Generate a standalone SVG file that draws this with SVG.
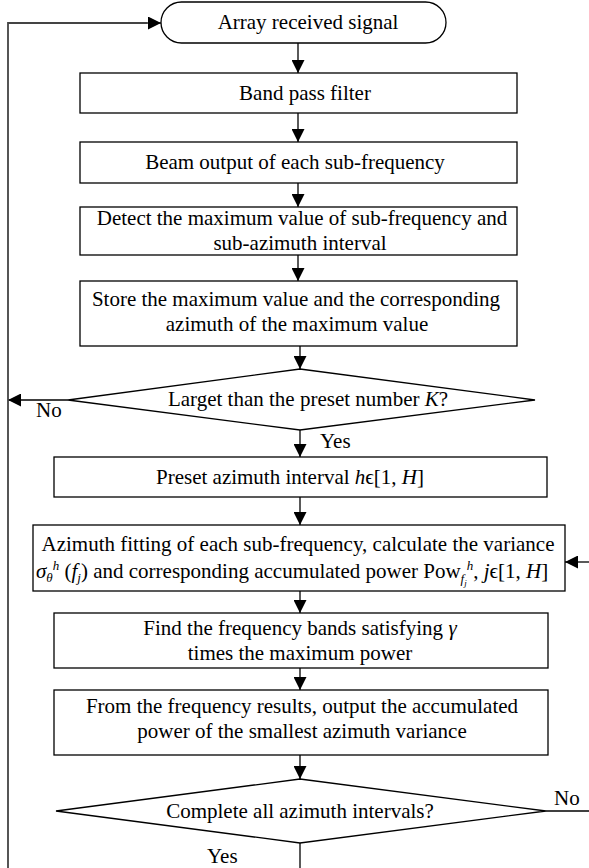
<svg xmlns="http://www.w3.org/2000/svg" width="589" height="868" viewBox="0 0 589 868">
<style>
  .box { fill: #fff; stroke: #000; stroke-width: 1.3; }
  .ln { fill: none; stroke: #000; stroke-width: 1.3; }
  .loop { fill: none; stroke: #444; stroke-width: 1.8; }
  text { font-family: "Liberation Serif", "Times New Roman", serif; font-size: 21px; fill: #000; }
  .c { text-anchor: middle; }
  .i { font-style: italic; }
  .s { font-size: 13px; font-style: italic; }
  .ss { font-size: 9px; font-style: italic; }
</style>
<defs>
  <marker id="ah" markerUnits="userSpaceOnUse" markerWidth="13" markerHeight="13" refX="13" refY="6.5" orient="auto">
    <path d="M0,0 L13,6.5 L0,13 Z" fill="#000"/>
  </marker>
</defs>
<rect width="589" height="868" fill="#fff"/>

<g id="connectors">
  <line class="ln" x1="298" y1="43" x2="298" y2="73" marker-end="url(#ah)"/>
  <line class="ln" x1="298" y1="113" x2="298" y2="142" marker-end="url(#ah)"/>
  <line class="ln" x1="298" y1="183" x2="298" y2="207" marker-end="url(#ah)"/>
  <line class="ln" x1="298" y1="255" x2="298" y2="281" marker-end="url(#ah)"/>
  <line class="ln" x1="300" y1="346" x2="300" y2="369" marker-end="url(#ah)"/>
  <line class="ln" x1="300" y1="430" x2="300" y2="457" marker-end="url(#ah)"/>
  <line class="ln" x1="300" y1="497" x2="300" y2="525" marker-end="url(#ah)"/>
  <line class="ln" x1="300" y1="591" x2="300" y2="613" marker-end="url(#ah)"/>
  <line class="ln" x1="300" y1="668" x2="300" y2="690" marker-end="url(#ah)"/>
  <line class="ln" x1="300" y1="755" x2="300" y2="779" marker-end="url(#ah)"/>
  <line class="ln" x1="300" y1="843" x2="300" y2="868"/>
  <line class="ln" x1="68" y1="400" x2="8" y2="400" marker-end="url(#ah)"/>
  <polyline class="loop" points="8,868 8,23 147,23"/>
  <line class="ln" x1="147" y1="23" x2="161" y2="23" marker-end="url(#ah)"/>
  <line class="ln" x1="546" y1="811" x2="589" y2="811"/>
  <line class="ln" x1="589" y1="562" x2="565" y2="562" marker-end="url(#ah)"/>
  <text x="36" y="417">No</text>
  <text x="320" y="448">Yes</text>
  <text x="554" y="805">No</text>
  <text x="207" y="863">Yes</text>
</g>

<g id="start">
  <rect class="box" x="161" y="2" width="285" height="41" rx="20.5"/>
  <text class="c" x="308" y="29">Array received signal</text>
</g>

<g id="bandpass">
  <rect class="box" x="80" y="73" width="437" height="40"/>
  <text class="c" x="305" y="100">Band pass filter</text>
</g>

<g id="beam">
  <rect class="box" x="80" y="142" width="437" height="41"/>
  <text class="c" x="295" y="169">Beam output of each sub-frequency</text>
</g>

<g id="detect">
  <rect class="box" x="80" y="207" width="437" height="48"/>
  <text class="c" x="302" y="225">Detect the maximum value of sub-frequency and</text>
  <text class="c" x="300" y="250">sub-azimuth interval</text>
</g>

<g id="store">
  <rect class="box" x="80" y="281" width="437" height="65"/>
  <text class="c" x="296" y="306">Store the maximum value and the corresponding</text>
  <text class="c" x="297" y="331">azimuth of the maximum value</text>
</g>

<g id="decision1">
  <polygon class="box" points="300,369 535,400 300,430 68,400"/>
  <text class="c" x="308" y="406">Larget than the preset number <tspan class="i">K</tspan>?</text>
</g>

<g id="preset">
  <rect class="box" x="54" y="457" width="493" height="40"/>
  <text class="c" x="290" y="484">Preset azimuth interval <tspan class="i">h</tspan>ϵ[1, <tspan class="i">H</tspan>]</text>
</g>

<g id="fitting">
  <rect class="box" x="33" y="525" width="532" height="66"/>
  <text class="c" x="298" y="551">Azimuth fitting of each sub-frequency, calculate the variance</text>
  <text x="36" y="578"><tspan class="i">σ</tspan><tspan class="s" dy="4">θ</tspan><tspan class="s" dy="-12">h</tspan><tspan dy="8"> (</tspan><tspan class="i">f</tspan><tspan class="s" dy="4">j</tspan><tspan dy="-4">) and corresponding accumulated power Pow</tspan><tspan class="s" dy="5">f</tspan><tspan class="ss" dy="3">j</tspan><tspan class="s" dy="-16">h</tspan><tspan dy="8">, </tspan><tspan class="i">j</tspan>ϵ[1, <tspan class="i">H</tspan>]</text>
</g>

<g id="find">
  <rect class="box" x="54" y="613" width="494" height="55"/>
  <text class="c" x="300" y="635">Find the frequency bands satisfying <tspan class="i">γ</tspan></text>
  <text class="c" x="300" y="660">times the maximum power</text>
</g>

<g id="output">
  <rect class="box" x="54" y="690" width="494" height="65"/>
  <text class="c" x="302" y="713">From the frequency results, output the accumulated</text>
  <text class="c" x="302" y="738">power of the smallest azimuth variance</text>
</g>

<g id="decision2">
  <polygon class="box" points="300,779 546,811 300,843 56,811"/>
  <text class="c" x="300" y="818">Complete all azimuth intervals?</text>
</g>
</svg>
